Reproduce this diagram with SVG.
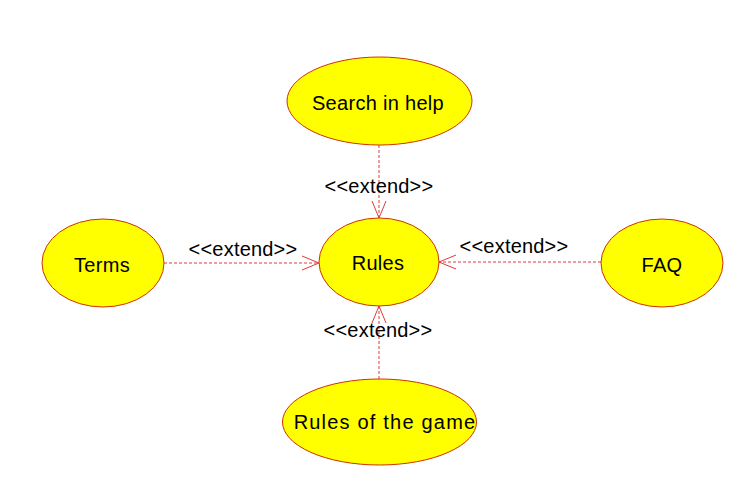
<svg xmlns="http://www.w3.org/2000/svg" width="746" height="495" viewBox="0 0 746 495">
<defs>
<style>
.uc{fill:#ffff00;stroke:#cc3300;stroke-width:1}
.t{font-family:"Liberation Sans",Arial,sans-serif;font-size:20px;letter-spacing:0.3px;fill:#000;text-anchor:middle}
.l{font-family:"Liberation Sans",Arial,sans-serif;font-size:20px;letter-spacing:0.2px;fill:#000;text-anchor:middle}
.c{stroke:#e03a3a;stroke-width:1;stroke-dasharray:3,2;fill:none}
</style>
<marker id="open" viewBox="0 0 20 20" refX="19" refY="10" markerWidth="20" markerHeight="20" markerUnits="userSpaceOnUse" orient="auto">
<path d="M2,3 L19,10 L2,17" fill="none" stroke="#e03a3a" stroke-width="1"/>
</marker>
</defs>
<rect width="746" height="495" fill="#fff"/>
<g id="connectors">
<line class="c" x1="379" y1="145" x2="379" y2="218" marker-end="url(#open)"/>
<line class="c" x1="164" y1="263" x2="319" y2="263" marker-end="url(#open)"/>
<line class="c" x1="601" y1="262" x2="439" y2="262" marker-end="url(#open)"/>
<line class="c" x1="379" y1="379" x2="379" y2="306" marker-end="url(#open)"/>
<text class="l" x="379" y="193">&lt;&lt;extend&gt;&gt;</text>
<text class="l" x="243" y="256">&lt;&lt;extend&gt;&gt;</text>
<text class="l" x="514" y="253">&lt;&lt;extend&gt;&gt;</text>
<text class="l" x="378" y="337">&lt;&lt;extend&gt;&gt;</text>
</g>
<g id="search">
<ellipse class="uc" cx="379.5" cy="101" rx="92.5" ry="44"/>
<text class="t" x="378" y="110">Search in help</text>
</g>
<g id="rules">
<ellipse class="uc" cx="379" cy="262" rx="60" ry="44"/>
<text class="t" x="378" y="270">Rules</text>
</g>
<g id="terms">
<ellipse class="uc" cx="103" cy="263" rx="61" ry="44"/>
<text class="t" x="102" y="272">Terms</text>
</g>
<g id="faq">
<ellipse class="uc" cx="662" cy="263" rx="61" ry="44"/>
<text class="t" x="662" y="272">FAQ</text>
</g>
<g id="game">
<ellipse class="uc" cx="379.5" cy="422" rx="97" ry="43"/>
<text class="t" x="385" y="429" style="letter-spacing:1.2px">Rules of the game</text>
</g>
</svg>
